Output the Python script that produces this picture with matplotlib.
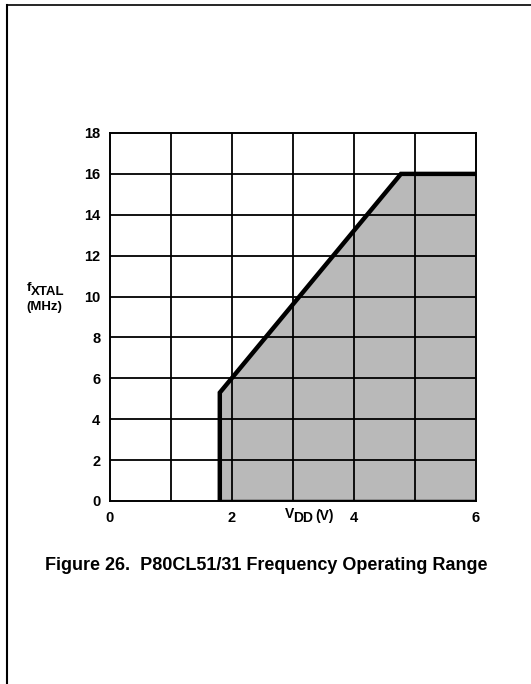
import matplotlib
matplotlib.use('Agg')
import matplotlib.pyplot as plt
from matplotlib.lines import Line2D

plt.rcParams['font.family'] = ['Liberation Sans', 'DejaVu Sans']
plt.rcParams['font.weight'] = 'bold'

# operating range boundary
vdd = [1.8, 1.8, 4.77, 6.0]
fxtal = [0.0, 5.3, 16.0, 16.0]

x_ticks = [0, 2, 4, 6]
y_ticks = [0, 2, 4, 6, 8, 10, 12, 14, 16, 18]
caption = 'Figure 26.  P80CL51/31 Frequency Operating Range'

fig = plt.figure(figsize=(5.31, 6.84), dpi=100)
ax = fig.add_axes([110/531, 183/684, 366/531, 368/684])

ax.fill_between(vdd, 0, fxtal, facecolor='#b9b9b9', edgecolor='none', zorder=1)
for xv in range(1, 6):
    ax.axvline(xv, color='black', lw=1.3, zorder=2)
for yv in range(2, 18, 2):
    ax.axhline(yv, color='black', lw=1.3, zorder=2)
ax.plot(vdd, fxtal, color='black', lw=3.2, solid_joinstyle='miter', zorder=3)
ax.plot([vdd[0], 6], [0, 0], color='black', lw=2.5, zorder=3)

ax.set_xlim(0, 6)
ax.set_ylim(0, 18)
ax.set_xticks(x_ticks)
ax.set_yticks(y_ticks)
ax.tick_params(length=0, labelsize=10.5, pad=7)
for lbl in ax.get_xticklabels() + ax.get_yticklabels():
    lbl.set_fontweight('bold')
for s in ax.spines.values():
    s.set_linewidth(1.4)

# axis labels
fig.text(27/531, 1 - 288/684, 'f', fontsize=9.5, ha='left', va='center')
fig.text(31/531, 1 - 292/684, 'XTAL', fontsize=9.5, ha='left', va='center')
fig.text(26/531, 1 - 307/684, '(MHz)', fontsize=9.5, ha='left', va='center')
fig.text(285/531, 1 - 514/684, 'V', fontsize=10, ha='left', va='center')
fig.text(293/531, 1 - 518/684, 'DD', fontsize=10, ha='left', va='center')
fig.text(315/531, 1 - 516/684, '(V)', fontsize=10, ha='left', va='center')

fig.text(266/531, 1 - 565/684, caption, fontsize=13, ha='center', va='center')

# page border
fig.add_artist(Line2D([7/531, 1], [1 - 5/684, 1 - 5/684], color='black', lw=1.2))
fig.add_artist(Line2D([7/531, 7/531], [0, 1 - 5/684], color='black', lw=1.5))

fig.savefig('out.png', dpi=100)
